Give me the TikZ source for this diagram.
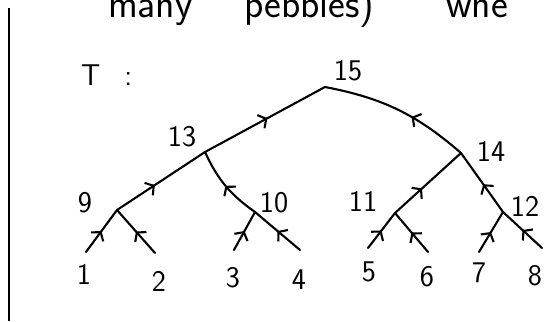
\documentclass[tikz,border=0pt]{standalone}
\usetikzlibrary{arrows.meta,decorations.markings}
\begin{document}
\begin{tikzpicture}[x=1pt,y=-1pt, line width=2.1pt, line cap=round, line join=round,
  lbl/.style={font=\sffamily\fontsize{30}{34}\selectfont, inner sep=0pt},
  mid/.style={decoration={markings, mark=at position #1 with {\arrow{Straight Barb[length=6pt,width=15pt,line width=2.1pt]}}}, postaction={decorate}},
  mid/.default=0.5]
\useasboundingbox (0,0) rectangle (548,321);
% margin rule
\coordinate (rtop) at (9,8);
\coordinate (rbot) at (9,321);
\draw[line width=2.8pt, line cap=butt] (rtop) -- (rbot);
% cut-off text at top
\node[anchor=base west, font=\sffamily\fontsize{40}{44}\selectfont, inner sep=0pt] (top) at (107,18)
  {\makebox[136pt][l]{many}\makebox[202pt][l]{pebbles)}whe};
\node[lbl, anchor=base west] (T) at (80,85) {T\hspace{24pt}:};
% tree positions
\coordinate (n15) at (325,87);
\coordinate (n13) at (205,152);
\coordinate (n14) at (461,153);
\coordinate (n9) at (117,210);
\coordinate (n10) at (255,212);
\coordinate (n11) at (395,213);
\coordinate (n12) at (503,212);
\coordinate (l1) at (86,252);
\coordinate (l2) at (155,253);
\coordinate (l3) at (234,250);
\coordinate (l4) at (300,250);
\coordinate (l5) at (368,248);
\coordinate (l6) at (428,252);
\coordinate (l7) at (479,252);
\coordinate (l8) at (542,248);
% edges
\draw[mid=0.52] (n13) -- (n15);
\draw[mid=0.4] (n14) to[bend right=15] (n15);
\draw[mid=0.43] (n9) -- (n13);
\draw[mid=0.5] (n10) to[bend left=15] (n13);
\draw[mid=0.41] (n11) -- (n14);
\draw[mid=0.47] (n12) -- (n14);
\draw[mid] (l1) -- (n9);
\draw[mid] (l2) -- (n9);
\draw[mid] (l3) -- (n10);
\draw[mid] (l4) -- (n10);
\draw[mid] (l5) -- (n11);
\draw[mid] (l6) -- (n11);
\draw[mid] (l7) -- (n12);
\draw[mid] (l8) -- (n12);
% labels
\node[lbl] (t15) at (348,71) {15};
\node[lbl] (t13) at (182,137) {13};
\node[lbl] (t14) at (491,151) {14};
\node[lbl] (t9) at (85,203) {9};
\node[lbl] (t10) at (274,203) {10};
\node[lbl] (t11) at (363,201) {11};
\node[lbl] (t12) at (525,206) {12};
\node[lbl] (t1) at (84,274) {1};
\node[lbl] (t2) at (159,281) {2};
\node[lbl] (t3) at (233,278) {3};
\node[lbl] (t4) at (299,280) {4};
\node[lbl] (t5) at (369,272) {5};
\node[lbl] (t6) at (427,277) {6};
\node[lbl] (t7) at (479,273) {7};
\node[lbl] (t8) at (535,276) {8};
\end{tikzpicture}
\end{document}
